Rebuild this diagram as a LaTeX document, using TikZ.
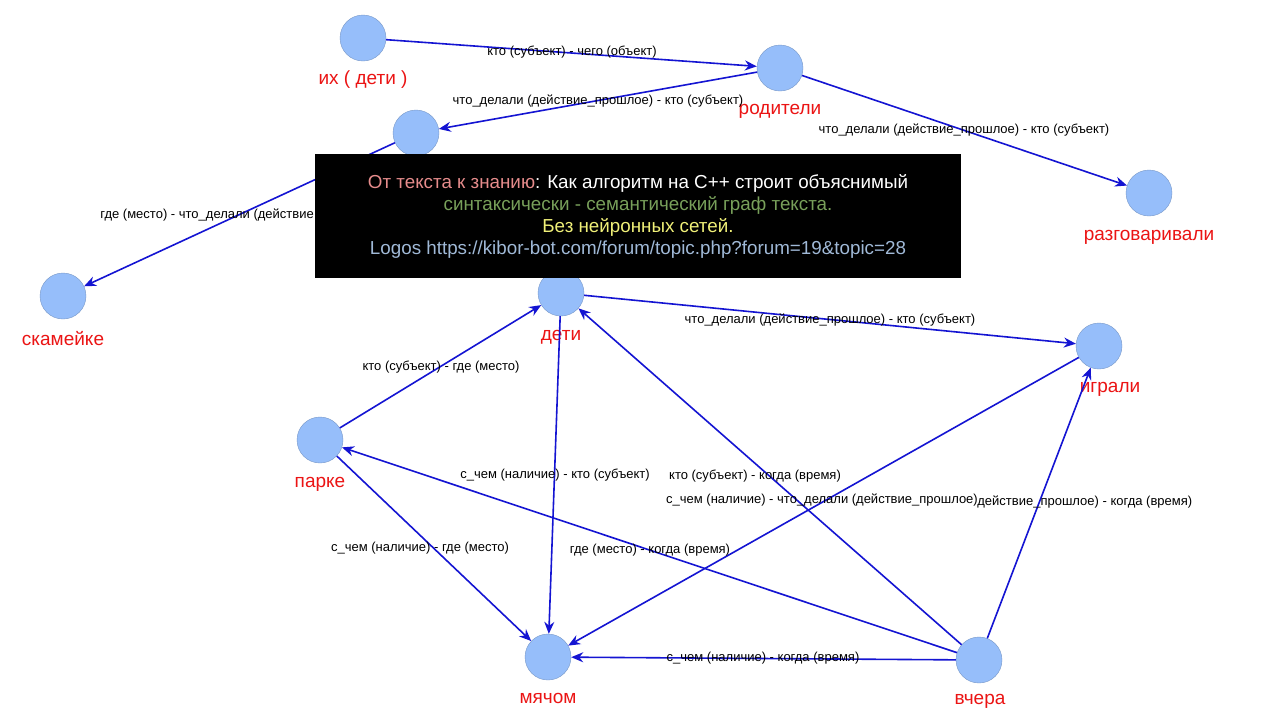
\documentclass[tikz,border=0pt]{standalone}
\usepackage{fontspec}
\setmainfont{Liberation Sans}
\usetikzlibrary{arrows.meta}
\definecolor{nodeblue}{RGB}{150,190,250}
\definecolor{edgeblue}{RGB}{20,20,210}
\definecolor{wordred}{RGB}{235,20,20}
\tikzset{
  word/.style={circle,fill=nodeblue,draw=nodeblue!80!black,very thin,minimum size=23pt,inner sep=0pt},
  wordname/.style={text=wordred,font=\fontsize{9.5}{10}\selectfont},
  rel/.style={font=\fontsize{6.5}{7}\selectfont,text=black,inner sep=0pt},
  link/.style={draw=edgeblue,thick,-{Stealth[length=6pt,width=5pt]}}
}
\begin{document}
\begin{tikzpicture}[x=0.5pt,y=-0.5pt]
\useasboundingbox[fill=white] (0,0) rectangle (1280,720);

\node[word] (ih) at (363,38) {};
\node[word] (roditeli) at (780,68) {};
\node[word] (deti1) at (416,133) {};
\node[word] (razg) at (1149,193) {};
\node[word] (skam) at (63,296) {};
\node[word] (deti) at (561,293) {};
\node[word] (igrali) at (1099,346) {};
\node[word] (parke) at (320,440) {};
\node[word] (myach) at (548,657) {};
\node[word] (vchera) at (979,660) {};

\node[wordname] at (363,80) {их ( дети )};
\node[wordname] at (780,111) {родители};
\node[wordname] at (1149,237) {разговаривали};
\node[wordname] at (63,339) {скамейке};
\node[wordname] at (561,337) {дети};
\node[wordname] at (1110,389) {играли};
\node[wordname] at (320,484) {парке};
\node[wordname] at (548,698) {мячом};
\node[wordname] at (980,701) {вчера};

\draw[link] (ih) -- (roditeli);
\draw[link] (roditeli) -- (deti1);
\draw[link] (roditeli) -- (razg);
\draw[link] (deti1) -- (skam);
\draw[link] (deti) -- (igrali);
\draw[link] (parke) -- (deti);
\draw[link] (deti) -- (myach);
\draw[link] (parke) -- (myach);
\draw[link] (vchera) -- (parke);
\draw[link] (vchera) -- (deti);
\draw[link] (igrali) -- (myach);
\draw[link] (vchera) -- (igrali);
\draw[link] (vchera) -- (myach);

\node[rel] (r1) at (572,52) {кто (субъект) - чего (объект)};
\node[rel] (r2) at (598,101) {что\_делали (действие\_прошлое) - кто (субъект)};
\node[rel] (r3) at (964,130) {что\_делали (действие\_прошлое) - кто (субъект)};
\node[rel,anchor=west] (r4) at (100,215) {где (место) - что\_делали (действие};
\node[rel] (r5) at (830,320) {что\_делали (действие\_прошлое) - кто (субъект)};
\node[rel] (r6) at (441,367) {кто (субъект) - где (место)};
\node[rel] (r7) at (555,475) {с\_чем (наличие) - кто (субъект)};
\node[rel] (r8) at (420,548) {с\_чем (наличие) - где (место)};
\node[rel] (r9) at (650,550) {где (место) - когда (время)};
\node[rel] (r10) at (755,476) {кто (субъект) - когда (время)};
\node[rel] (r11) at (822,500) {с\_чем (наличие) - что\_делали (действие\_прошлое)};
\node[rel,anchor=west] (r12) at (977,502) {действие\_прошлое) - когда (время)};
\node[rel] (r13) at (763,658) {с\_чем (наличие) - когда (время)};

% title box
\node[fill=black,minimum width=323pt,minimum height=62pt,inner sep=0pt] (box) at (638,216) {};
\node[align=center,font=\fontsize{9.4}{11}\selectfont] at (box) {%
\textcolor[RGB]{230,140,140}{От текста к знанию}\textcolor{white}{: Как алгоритм на C++ строит объяснимый}\\
\textcolor[RGB]{120,160,90}{синтаксически - семантический граф текста.}\\
\textcolor[RGB]{240,240,120}{Без нейронных сетей.}\\
\textcolor[RGB]{160,185,215}{Logos https://kibor-bot.com/forum/topic.php?forum=19\&topic=28}};
\end{tikzpicture}
\end{document}
